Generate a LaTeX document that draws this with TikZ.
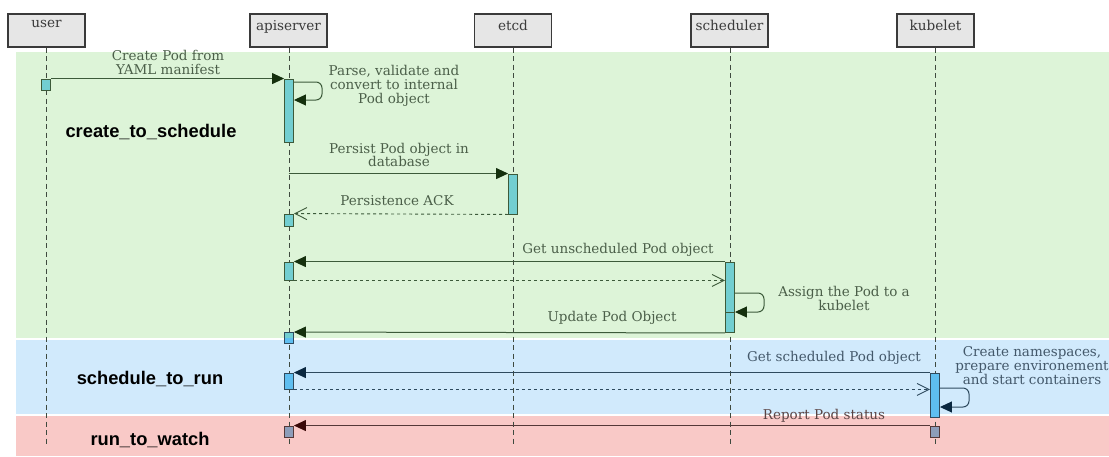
\documentclass[tikz,border=0pt]{standalone}
\usepackage{fontspec}
\setmainfont{DejaVu Serif}
\newfontfamily\phasefont{Liberation Sans}
\usetikzlibrary{arrows.meta}
\definecolor{bandG}{HTML}{DDF4D8}
\definecolor{bandB}{HTML}{D1EAFC}
\definecolor{bandR}{HTML}{F9C9C7}
\definecolor{barG}{HTML}{72CED1}
\definecolor{barB}{HTML}{5EBEF0}
\definecolor{barR}{HTML}{8D9DB9}
\definecolor{edgeG}{HTML}{3C5A3A}
\definecolor{edgeB}{HTML}{2E4A5E}
\definecolor{edgeR}{HTML}{553838}
\definecolor{headG}{HTML}{15300E}
\definecolor{headB}{HTML}{0A2840}
\definecolor{headR}{HTML}{3A0808}
\definecolor{txtG}{HTML}{4B5F49}
\definecolor{txtB}{HTML}{43586A}
\definecolor{txtR}{HTML}{5A4444}
\definecolor{boxfill}{HTML}{E6E6E6}
\definecolor{boxline}{HTML}{3A3A3A}
\definecolor{lifeC}{HTML}{3F4A3F}
\begin{document}
\begin{tikzpicture}[x=1pt,y=-1pt,
  actorbox/.style={draw=boxline, fill=boxfill, line width=1.1pt, minimum width=77pt,
    minimum height=33pt, inner sep=0pt,
    label={[anchor=north, inner sep=0pt, yshift=-6.5pt, text=boxline, font=\fontsize{13.6}{14}\selectfont]north:#1}},
  lifeline/.style={draw=lifeC, line width=1pt, dash pattern=on 5pt off 3.5pt},
  actbar/.style={draw=#1, line width=0.9pt, minimum width=9pt, inner sep=0pt},
  msg/.style={draw=edge#1, line width=1pt, -{Triangle[length=12pt,width=11pt,color=head#1,fill=head#1]}},
  retmsg/.style={draw=edge#1, line width=0.9pt, dash pattern=on 3pt off 3pt,
    -{Straight Barb[length=12pt,width=12pt,line width=0.9pt]}},
  selfmsg/.style={msg=#1, rounded corners=6pt},
  msglbl/.style={text=txt#1, align=center, inner sep=0pt, font=\fontsize{13.5}{13.8}\selectfont},
  phase/.style={text=black, inner sep=0pt, font=\phasefont\bfseries\fontsize{18.3}{18}\selectfont},
  band/.style={fill=#1, draw=none}
]
\useasboundingbox (0,0) rectangle (1109,456);

% bands
\path[band=bandG] (16,52) rectangle (1109,337.5);
\path[band=bandB] (16,339.5) rectangle (1109,414);
\path[band=bandR] (16,416) rectangle (1109,455.5);

% actors
\node[actorbox=user] (user) at (46.5,30.5) {};
\node[actorbox=apiserver] (api) at (288.5,30.5) {};
\node[actorbox=etcd] (etcd) at (513,30.5) {};
\node[actorbox=scheduler] (sched) at (729.5,30.5) {};
\node[actorbox=kubelet] (kube) at (935.5,30.5) {};

% lifelines
\coordinate (userE) at (46,446);
\coordinate (apiE) at (289,446);
\coordinate (etcdE) at (513,446);
\coordinate (schedE) at (730,446);
\coordinate (kubeE) at (935,446);
\draw[lifeline] (userE |- user.south) -- (userE);
\draw[lifeline] (apiE |- api.south) -- (apiE);
\draw[lifeline] (etcdE |- etcd.south) -- (etcdE);
\draw[lifeline] (schedE |- sched.south) -- (schedE);
\draw[lifeline] (kubeE |- kube.south) -- (kubeE);

% activation bars
\node[actbar=edgeG, fill=barG, minimum height=11pt] (ub1) at (46,84.5) {};
\node[actbar=edgeG, fill=barG, minimum height=63pt] (ab1) at (289,110.5) {};
\node[actbar=edgeG, fill=barG, minimum height=40pt] (eb1) at (513,194) {};
\node[actbar=edgeG, fill=barG, minimum height=12pt] (ab2) at (289,220) {};
\node[actbar=edgeG, fill=barG, minimum height=18pt] (ab3) at (289,271) {};
\node[actbar=edgeG, fill=barG, minimum height=70.5pt] (sb1) at (730,297.25) {};
\node[actbar=edgeB, fill=barB, minimum height=11pt,
  path picture={\fill[barG] (path picture bounding box.north west) rectangle ([yshift=0.5pt]path picture bounding box.east);}]
  (ab4) at (289,338) {};
\node[actbar=edgeB, fill=barB, minimum height=16pt] (ab5) at (289,381) {};
\node[actbar=edgeB, fill=barB, minimum height=44pt] (kb1) at (935,395) {};
\node[actbar=edgeR, fill=barR, minimum height=11pt] (ab6) at (289,431.5) {};
\node[actbar=edgeR, fill=barR, minimum height=11pt] (kb2) at (935,431.5) {};

% messages
\draw[msg=G] (ub1.north east) -- (ab1.north west);
\node[msglbl=G] (l1) at (168,62.5) {Create Pod from\\YAML manifest};

\coordinate (s1a) at (322,82);
\coordinate (s1b) at (322,100);
\draw[selfmsg=G] (ab1.east |- s1a) -- (s1a) -- (s1b) -- (ab1.east |- s1b);
\node[msglbl=G] (l2) at (394,86) {Parse, validate and\\convert to internal\\Pod object};

\draw[msg=G] (api |- eb1.north) -- (eb1.north west);
\node[msglbl=G] (l3) at (399,155) {Persist Pod object in\\database};

\draw[retmsg=G] (eb1.south west) -- (ab2.north east);
\node[msglbl=G] (l4) at (397,201) {Persistence ACK};

\draw[msg=G] (sb1.north west) -- (ab3.north east);
\node[msglbl=G] (l5) at (618,250) {Get unscheduled Pod object};

\draw[retmsg=G] (ab3.south east) -- (sb1.west |- ab3.south);

\coordinate (s2a) at (764,293);
\coordinate (s2b) at (764,312);
\draw[edgeG, line width=0.9pt] (sb1.west |- s2b) -- (sb1.east |- s2b);
\draw[selfmsg=G] (sb1.east |- s2a) -- (s2a) -- (s2b) -- (sb1.east |- s2b);
\node[msglbl=G] (l6) at (844,298.5) {Assign the Pod to a\\kubelet};

\draw[msg=G] (sb1.south west) -- (ab4.north east);
\node[msglbl=G] (l7) at (612,318) {Update Pod Object};

\draw[msg=B] (kb1.north west) -- (ab5.north east);
\node[msglbl=B] (l8) at (834,358) {Get scheduled Pod object};

\draw[retmsg=B] (ab5.south east) -- (kb1.west |- ab5.south);

\coordinate (s3a) at (969,388);
\coordinate (s3b) at (969,407);
\draw[selfmsg=B] (kb1.east |- s3a) -- (s3a) -- (s3b) -- (kb1.east |- s3b);
\node[msglbl=B] (l9) at (1032,365.5) {Create namespaces,\\prepare environement\\and start containers};

\draw[msg=R] (kb2.north west) -- (ab6.north east);
\node[msglbl=R] (l10) at (824,416) {Report Pod status};

% phase labels
\node[phase] (p1) at (151,132) {create\_to\_schedule};
\node[phase] (p2) at (150,379) {schedule\_to\_run};
\node[phase] (p3) at (150,440) {run\_to\_watch};
\end{tikzpicture}
\end{document}
